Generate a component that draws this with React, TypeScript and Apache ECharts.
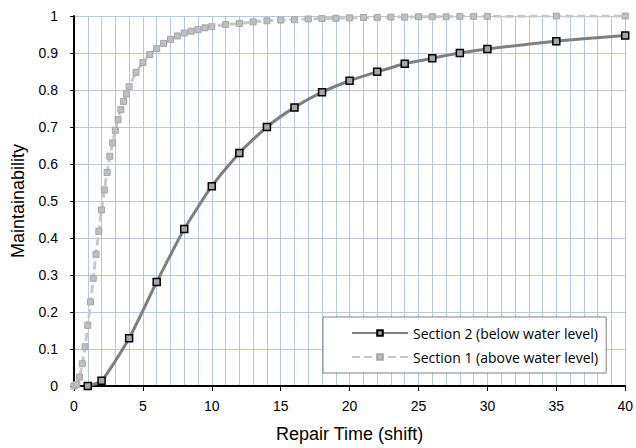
import React, { useEffect, useRef } from "react";
import * as echarts from "echarts";

const s1X = [0, 0.2, 0.4, 0.6, 0.8, 1.0, 1.2, 1.4, 1.6, 1.8, 2.0, 2.2, 2.4, 2.6, 2.8, 3.0, 3.2, 3.4, 3.6, 3.8, 4.0,
  4.5, 5.0, 5.5, 6.0, 6.5, 7.0, 7.5, 8.0, 8.5, 9.0, 9.5, 10,
  11, 12, 13, 14, 15, 16, 17, 18, 19, 20, 21, 22, 23, 24, 25, 26, 27, 28, 29, 30, 35, 40];
const s1Y = [0, 0.004, 0.024, 0.06, 0.106, 0.164, 0.227, 0.291, 0.356, 0.418, 0.476, 0.53, 0.577, 0.621, 0.657, 0.691, 0.72, 0.747, 0.769, 0.789, 0.809,
  0.847, 0.874, 0.896, 0.912, 0.926, 0.937, 0.946, 0.954, 0.959, 0.963, 0.968, 0.971,
  0.977, 0.98, 0.984, 0.987, 0.989, 0.99, 0.992, 0.993, 0.994, 0.995, 0.996, 0.996, 0.997, 0.997, 0.998, 0.998, 0.998, 0.999, 0.999, 0.999, 1.0, 1.0];

const s2X = [1, 2, 4, 6, 8, 10, 12, 14, 16, 18, 20, 22, 24, 26, 28, 30, 35, 40];
const s2Y = [0, 0.014, 0.129, 0.281, 0.424, 0.54, 0.63, 0.70, 0.753, 0.794, 0.825, 0.849, 0.871, 0.886, 0.9, 0.911, 0.932, 0.947];

const seriesNames = ["Section 2 (below water level)", "Section 1 (above water level)"];
const xTitle = "Repair Time (shift)";
const yTitle = "Maintainability";

export default function App() {
  const ref = useRef<HTMLDivElement>(null);
  useEffect(() => {
    if (!ref.current) return;
    const chart = echarts.init(ref.current, undefined, { renderer: "svg" });
    const grid = "#b4c7e7";
    const font = "Liberation Sans, Arial, sans-serif";
    chart.setOption({
      animation: false,
      backgroundColor: "#ffffff",
      grid: { left: 74, right: 10, top: 16, bottom: 60 },
      xAxis: {
        type: "value",
        min: 0,
        max: 40,
        interval: 5,
        name: xTitle,
        nameLocation: "middle",
        nameGap: 39,
        nameTextStyle: { fontFamily: font, fontSize: 18, color: "#000" },
        axisLine: { show: true, onZero: false, lineStyle: { color: "#000", width: 2 } },
        axisTick: { show: true, inside: false, length: 5, lineStyle: { color: "#000", width: 1 } },
        axisLabel: { fontFamily: font, fontSize: 14, color: "#000", margin: 13 },
        splitLine: { show: true, lineStyle: { color: grid, width: 1 } },
        minorTick: { show: false, splitNumber: 5 },
        minorSplitLine: { show: true, lineStyle: { color: grid, width: 1 } },
      },
      yAxis: {
        type: "value",
        min: 0,
        max: 1,
        interval: 0.1,
        name: yTitle,
        nameLocation: "middle",
        nameGap: 47,
        nameTextStyle: { fontFamily: font, fontSize: 18, color: "#000" },
        axisLine: { show: true, lineStyle: { color: "#000", width: 2 } },
        axisTick: { show: true, inside: false, length: 4, lineStyle: { color: "#000", width: 1 } },
        axisLabel: { fontFamily: font, fontSize: 14, color: "#000", margin: 16 },
        splitLine: { show: true, lineStyle: { color: grid, width: 1 } },
      },
      legend: {
        orient: "vertical",
        left: 323,
        top: 317,
        width: 284,
        data: seriesNames,
        backgroundColor: "#ffffff",
        borderColor: "#808080",
        borderWidth: 1,
        padding: [9, 8, 9, 28],
        itemGap: 10,
        itemWidth: 56,
        itemHeight: 7,
        textStyle: { fontFamily: "Open Sans, Lato, sans-serif", fontSize: 14, color: "#000" },
      },
      series: [
        {
          name: seriesNames[1],
          type: "line",
          data: s1X.map((x, i) => [x, s1Y[i]]),
          smooth: 0.2,
          symbol: "rect",
          symbolSize: 6,
          lineStyle: { color: "#c8c8c8", width: 3, type: [8, 4] },
          itemStyle: { color: "#bfbfbf", borderColor: "#a6a6a6", borderWidth: 1 },
          z: 2,
        },
        {
          name: seriesNames[0],
          type: "line",
          data: s2X.map((x, i) => [x, s2Y[i]]),
          smooth: 0.2,
          symbol: "rect",
          symbolSize: 7,
          lineStyle: { color: "#7f7f7f", width: 3 },
          itemStyle: { color: "#a6a6a6", borderColor: "#000", borderWidth: 1.5 },
          z: 3,
        },
      ],
    });
    return () => chart.dispose();
  }, []);
  return <div ref={ref} style={{ width: 636, height: 448, position: "absolute", left: 0, top: 0 }} />;
}
